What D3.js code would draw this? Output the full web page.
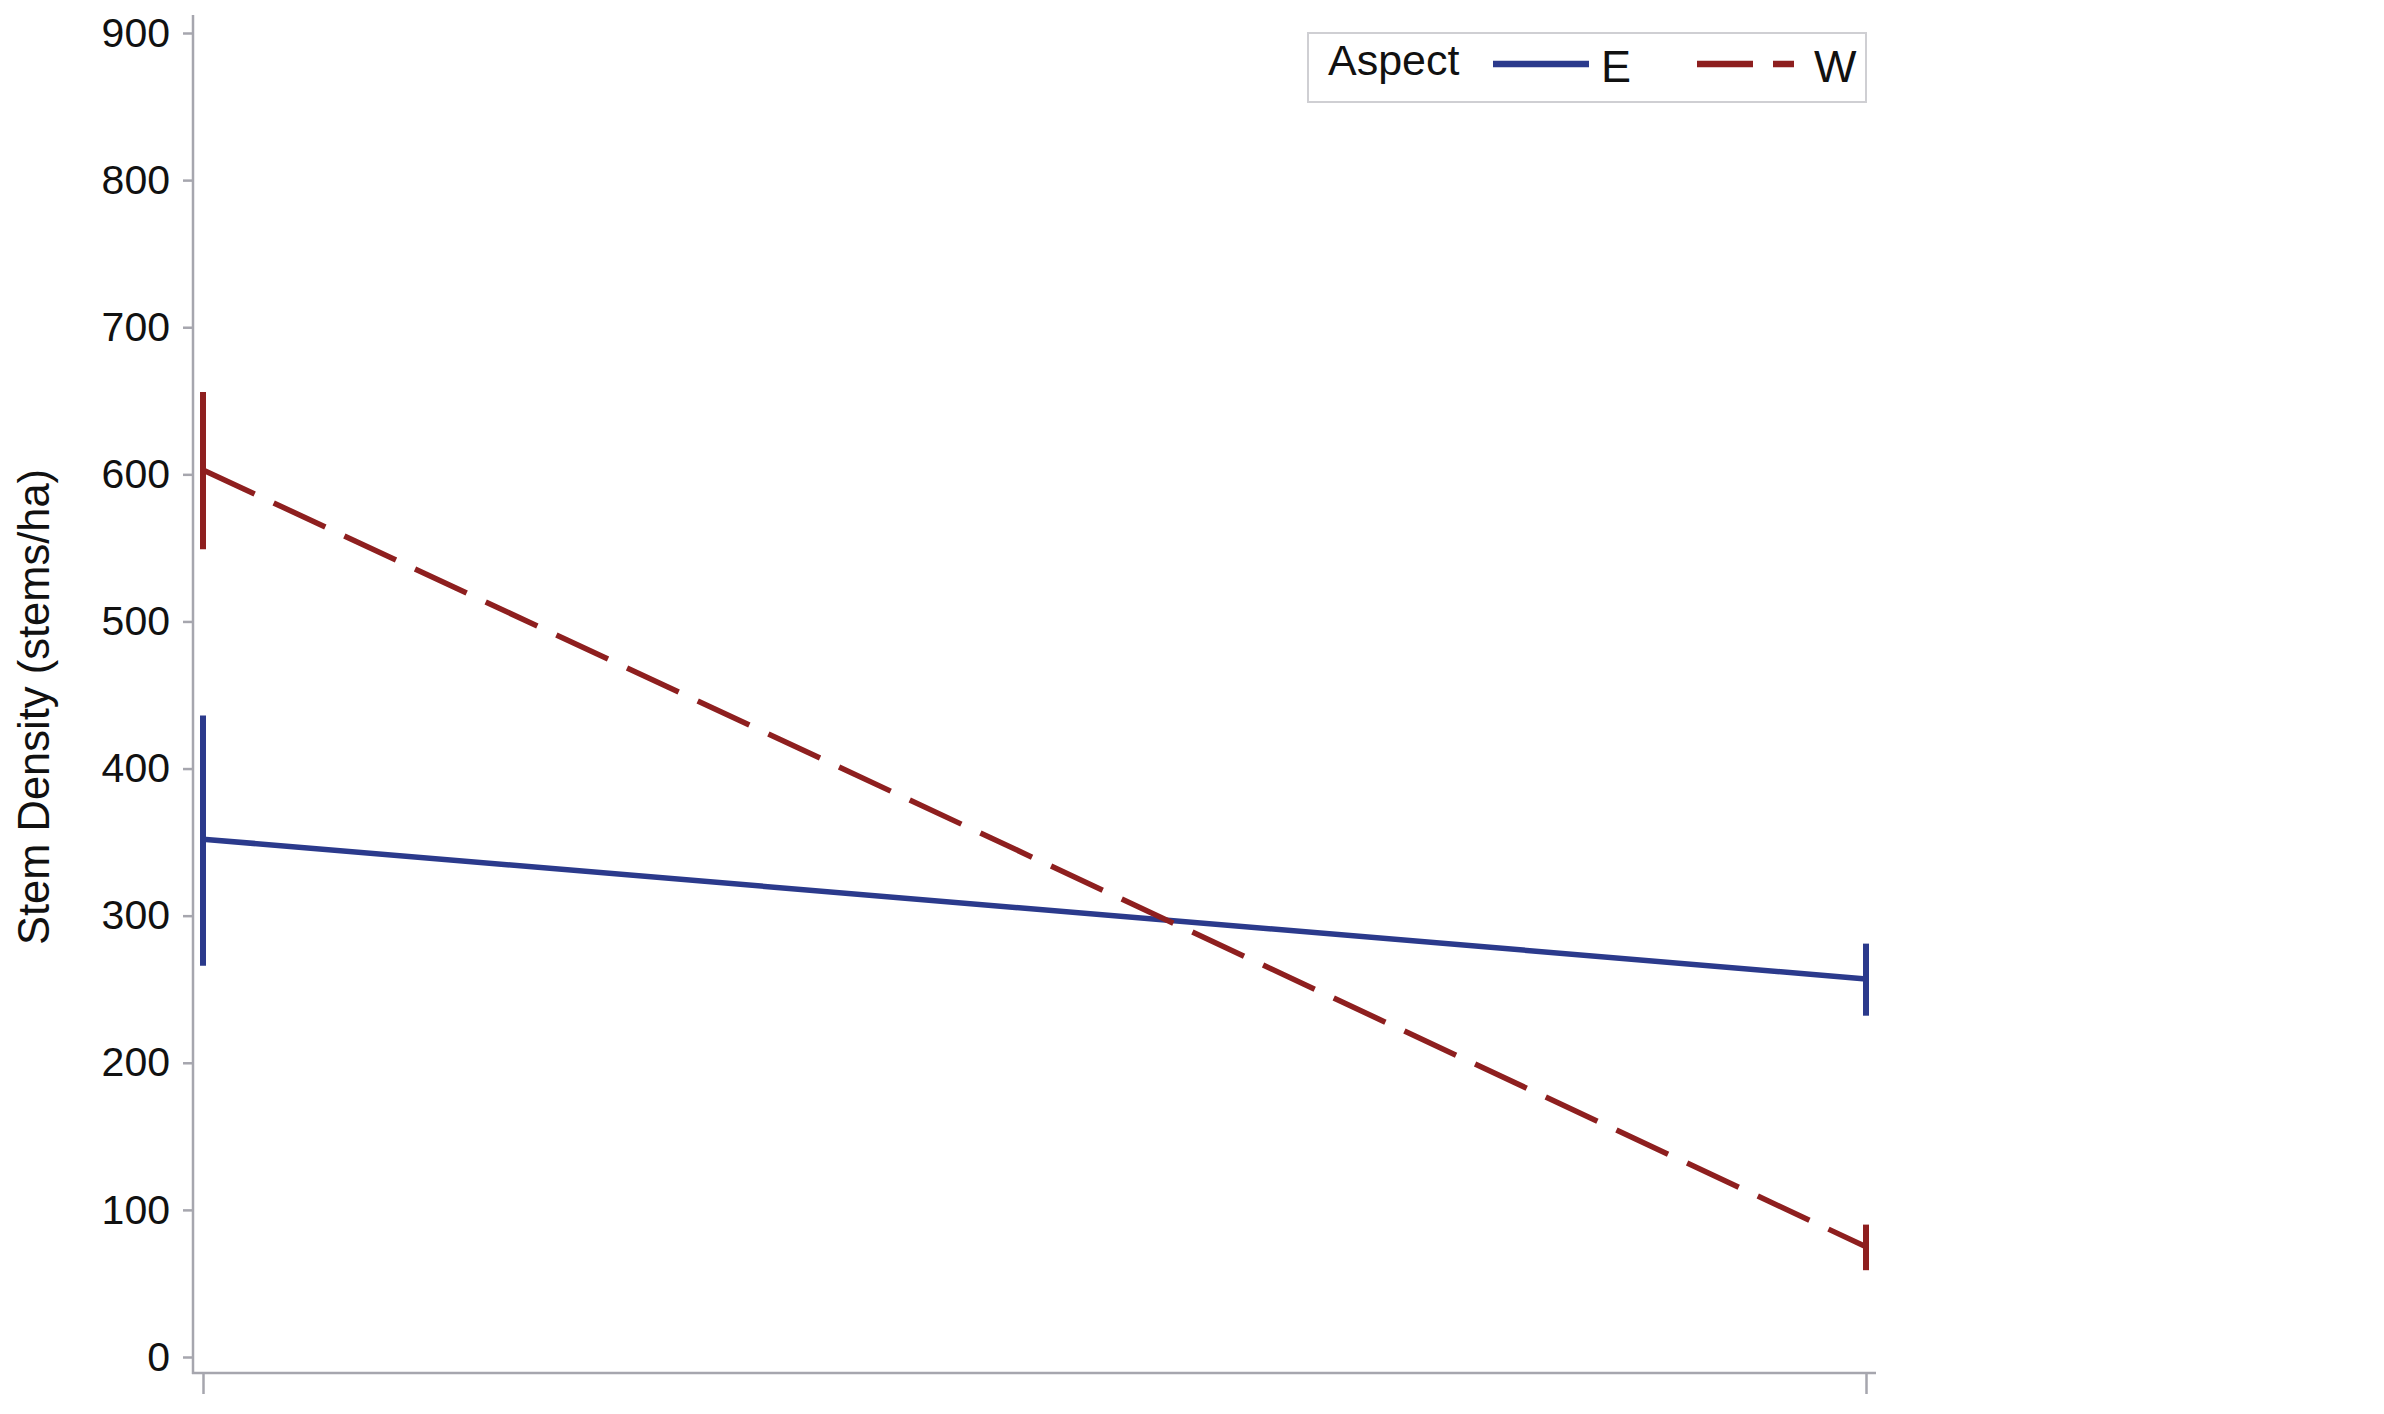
<!DOCTYPE html>
<html>
<head>
<meta charset="utf-8">
<script src="https://cdn.jsdelivr.net/npm/d3@7"></script>
<style>
  body { margin: 0; background: #fff; }
  text { font-family: Arial, "Liberation Sans", sans-serif; fill: #111; }
</style>
</head>
<body>
<svg id="chart" width="2384" height="1414"></svg>
<script>
// data
var categories = ['1', '2'];
var aspects = ['E', 'W'];
var meanE = [352, 257];
var lowE  = [266, 232];
var highE = [436, 281];
var meanW = [603, 75];
var lowW  = [549, 59];
var highW = [656, 90];
var yTicks = [0, 100, 200, 300, 400, 500, 600, 700, 800, 900];
var colors = { E: '#2b3a8c', W: '#8e1f1f' };

var series = [
    { key: 'E', mean: meanE, low: lowE, high: highE, dash: null },
    { key: 'W', mean: meanW, low: lowW, high: highW, dash: '57,21' }
];

var svg = d3.select('#chart');
var axisColor = '#a6a6ae';

var x = d3.scalePoint().domain(categories).range([203, 1866]);
var y = d3.scaleLinear().domain([0, 900]).range([1357, 33]);

// y axis
var yAx = d3.axisLeft(y).tickValues(yTicks).tickSize(10).tickPadding(13).tickSizeOuter(0);
var gy = svg.append('g').attr('transform', 'translate(193,0)').call(yAx);
gy.select('.domain').remove();
gy.selectAll('line').attr('stroke', axisColor).attr('stroke-width', 2.5);
gy.selectAll('text').style('font-size', '41px').attr('fill', '#111');
svg.append('line')
    .attr('x1', 193).attr('x2', 193).attr('y1', 15).attr('y2', 1374)
    .attr('stroke', axisColor).attr('stroke-width', 2.5);

// x axis (no labels)
var xAx = d3.axisBottom(x).tickSize(21).tickFormat(function(){ return ''; }).tickSizeOuter(0);
var gx = svg.append('g').attr('transform', 'translate(0,1373)').call(xAx);
gx.select('.domain').remove();
gx.selectAll('line').attr('stroke', axisColor).attr('stroke-width', 2.5);
svg.append('line')
    .attr('x1', 192).attr('x2', 1876).attr('y1', 1373).attr('y2', 1373)
    .attr('stroke', axisColor).attr('stroke-width', 2.5);

// axis title
svg.append('text')
    .attr('transform', 'translate(49,707) rotate(-90)')
    .attr('text-anchor', 'middle')
    .style('font-size', '43.5px')
    .text('Stem Density (stems/ha)');

// lines + error bars
var line = d3.line()
    .x(function(d, i){ return x(categories[i]); })
    .y(function(d){ return y(d); });

series.forEach(function(s){
    svg.append('path')
        .attr('d', line(s.mean))
        .attr('fill', 'none')
        .attr('stroke', colors[s.key])
        .attr('stroke-width', 5.5)
        .attr('stroke-dasharray', s.dash);
    svg.selectAll(null)
        .data(categories)
        .enter().append('line')
        .attr('x1', function(c){ return x(c); })
        .attr('x2', function(c){ return x(c); })
        .attr('y1', function(c, i){ return y(s.low[i]); })
        .attr('y2', function(c, i){ return y(s.high[i]); })
        .attr('stroke', colors[s.key])
        .attr('stroke-width', 6);
});

// legend
var lg = svg.append('g');
lg.append('rect')
    .attr('x', 1308).attr('y', 33).attr('width', 558).attr('height', 69)
    .attr('fill', '#fff').attr('stroke', '#cfcfd3').attr('stroke-width', 2);
lg.append('text').attr('x', 1328).attr('y', 75).style('font-size', '43px').text('Aspect');
lg.append('line')
    .attr('x1', 1493).attr('x2', 1589).attr('y1', 64).attr('y2', 64)
    .attr('stroke', colors.E).attr('stroke-width', 6.5);
lg.append('text').attr('x', 1601).attr('y', 82).style('font-size', '45px').text(aspects[0]);
lg.append('line')
    .attr('x1', 1697).attr('x2', 1794).attr('y1', 64).attr('y2', 64)
    .attr('stroke', colors.W).attr('stroke-width', 6.5)
    .attr('stroke-dasharray', '56,20');
lg.append('text').attr('x', 1814).attr('y', 82).style('font-size', '45px').text(aspects[1]);
</script>
</body>
</html>
